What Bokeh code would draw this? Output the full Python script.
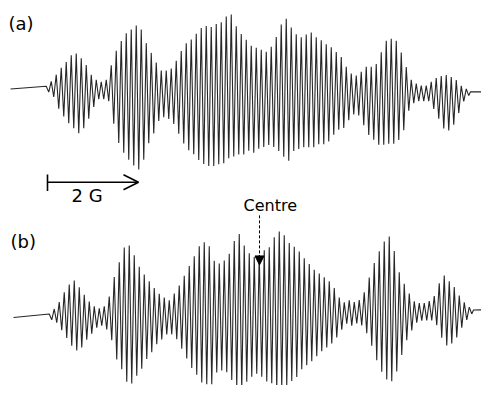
import numpy as np
from bokeh.plotting import figure
from bokeh.models import Range1d, Arrow, OpenHead, NormalHead
from bokeh.core.properties import value
from bokeh.embed import file_html
from bokeh.resources import INLINE

# ---------------- data ----------------
# Trace (a): amplitude of each upward / downward excursion, one per line
a_top = [3, 8, 15, 22, 28, 35, 37, 32, 25, 15, 10, 8, 10,
         25, 40, 50, 58, 62, 66, 62, 48, 38, 28, 20,
         20, 22, 30, 40, 48, 52, 58, 64, 66, 65, 68, 70, 76, 78, 66, 58,
         52, 46, 44, 42, 40, 45, 55, 68, 74, 65, 58, 55, 58, 60, 55, 52,
         48, 45, 40, 35, 25, 18, 16, 20, 25, 25, 28, 40, 52, 54, 52, 40,
         25, 12, 8, 6, 6, 10, 14, 16, 17, 15, 12, 6, 3]
a_bot = [3, 8, 20, 28, 35, 40, 45, 40, 30, 18, 10, 10, 12,
         35, 55, 65, 72, 78, 82, 72, 55, 45, 32, 28,
         30, 35, 45, 55, 62, 66, 72, 76, 78, 78, 76, 75, 70, 68, 66, 66,
         62, 64, 60, 58, 56, 58, 62, 68, 72, 62, 60, 58, 58, 58, 55, 55,
         52, 45, 40, 38, 30, 24, 25, 35, 45, 50, 55, 55, 54, 54, 50, 40,
         20, 12, 10, 10, 10, 18, 28, 38, 40, 34, 22, 10, 4]
# Trace (b)
b_top = [3, 8, 15, 25, 33, 37, 30, 22, 15, 10, 8, 10,
         20, 40, 55, 70, 72, 62, 50, 42, 35, 28, 22,
         18, 15, 22, 30, 40, 50, 60, 70, 74, 70, 55, 52, 55, 62, 75, 82,
         70, 62, 58, 60, 65, 68, 78, 84, 80, 72, 68, 63, 56, 50, 44, 40,
         36, 32, 25, 15, 10, 12, 10, 12,
         20, 35, 50, 62, 72, 77, 62, 40, 28, 18, 10, 8, 8, 10,
         15, 28, 36, 30, 24, 15, 8, 3]
b_bot = [3, 6, 14, 22, 30, 35, 32, 24, 18, 12, 10, 14,
         25, 45, 55, 68, 70, 62, 55, 45, 38, 30, 25,
         20, 20, 25, 35, 45, 55, 62, 70, 72, 72, 60, 58, 60, 68, 75, 78,
         70, 65, 62, 65, 70, 72, 78, 78, 75, 70, 66, 58, 54, 50, 45, 40,
         36, 32, 26, 18, 12, 14, 12, 14,
         22, 35, 50, 62, 70, 72, 62, 45, 30, 20, 12, 10, 10, 10,
         15, 28, 36, 34, 28, 18, 10, 4]
line_step = 5.0          # field distance between successive lines
a_first, b_first = 47.0, 50.0
a_span = (10.0, 490.0)
b_span = (13.0, 492.0)

# ---------------- layout (image coordinates, y measured from top) ----------------
H = 401
def Y(iy):
    return H - iy

a_base = (91.0, 94.0)     # baseline at left / right end (image y)
b_base = (326.0, 318.0)


def trace(first, top, bot, span, base):
    def bl(x):
        return base[0] + (base[1] - base[0]) * (x - span[0]) / (span[1] - span[0])
    xs = [span[0]]
    ys = [Y(bl(span[0]))]
    field = first + line_step * np.arange(len(top))
    for f, t, b in zip(field, top, bot):
        xs.append(f - 1.25)
        ys.append(Y(bl(f) - t))
        xs.append(f + 1.25)
        ys.append(Y(bl(f) + b))
    xs.append(field[-1] + 3.0)
    ys.append(Y(bl(field[-1] + 3.0)))
    xs.append(span[1])
    ys.append(Y(bl(span[1])))
    return xs, ys


p = figure(width=481, height=385, output_backend="svg", toolbar_location=None,
           x_range=Range1d(0, 481), y_range=Range1d(Y(396), Y(0)),
           min_border=0, outline_line_color=None)
p.axis.visible = False
p.grid.visible = False
p.background_fill_color = "white"

xa, ya = trace(a_first, a_top, a_bot, a_span, a_base)
xb, yb = trace(b_first, b_top, b_bot, b_span, b_base)
p.line(xa, ya, line_color="#262626", line_width=1.1)
p.line(xb, yb, line_color="#262626", line_width=1.1)

font = value("DejaVu Sans")
p.text(x=[8], y=[Y(13)], text=["(a)"], text_font=font, text_font_size="18px",
       text_baseline="top", text_color="black")
p.text(x=[10], y=[Y(237)], text=["(b)"], text_font=font, text_font_size="18px",
       text_baseline="top", text_color="black")
p.text(x=[71], y=[Y(190)], text=["2 G"], text_font=font, text_font_size="18px",
       text_baseline="top", text_color="black")
p.text(x=[243], y=[Y(201)], text=["Centre"], text_font=font, text_font_size="16px",
       text_baseline="top", text_color="black")

# 2 G scale bar
p.segment(x0=[47], y0=[Y(179)], x1=[47], y1=[Y(196)], line_color="black", line_width=1.6)
p.add_layout(Arrow(end=OpenHead(size=15, line_width=1.6, line_color="black"),
                   x_start=47, y_start=Y(187), x_end=138, y_end=Y(187),
                   line_width=1.6, line_color="black"))
# Centre marker
p.add_layout(Arrow(end=NormalHead(size=9, fill_color="black", line_color="black"),
                   x_start=259, y_start=Y(221), x_end=259, y_end=Y(272),
                   line_width=1, line_dash="3 2", line_color="black"))

open("out.html", "w").write(file_html(p, INLINE))
